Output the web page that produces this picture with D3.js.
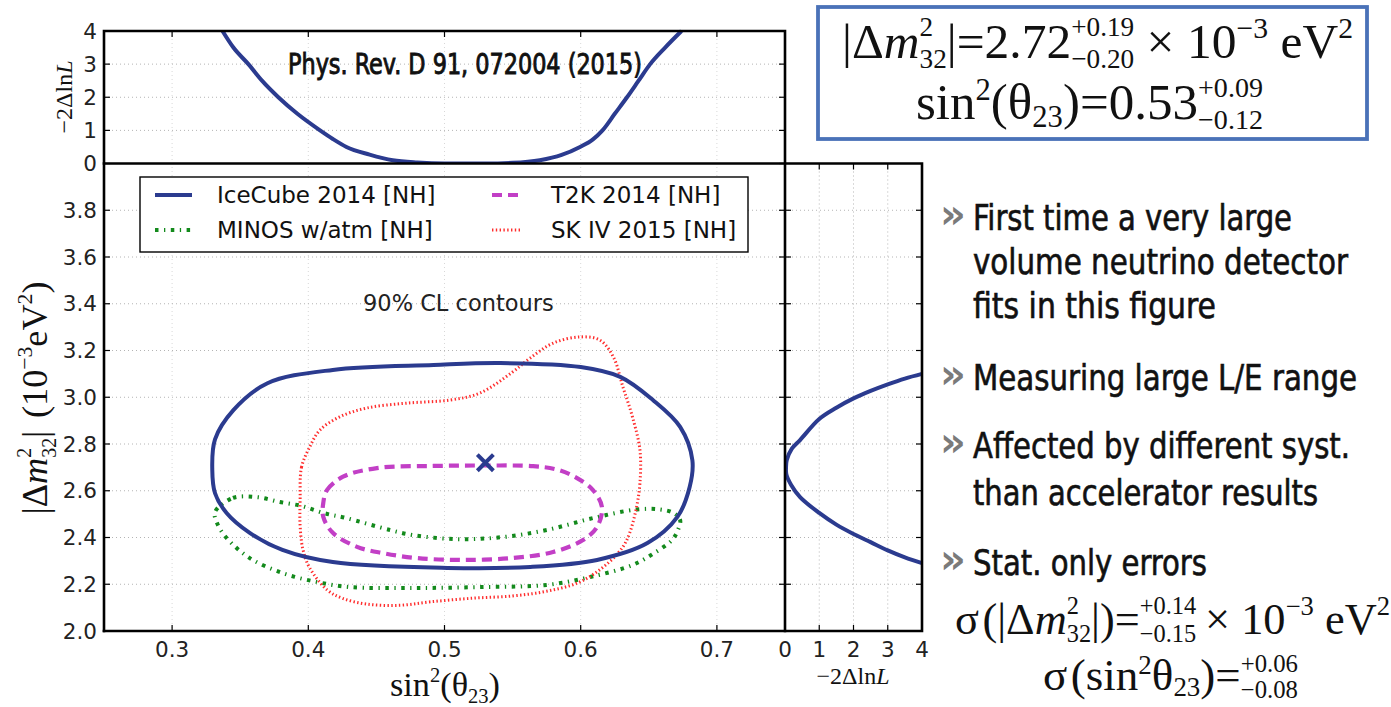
<!DOCTYPE html>
<html><head><meta charset="utf-8">
<script src="https://cdn.jsdelivr.net/npm/d3@7"></script>
<style>body{margin:0;background:#fff} text{white-space:pre}</style>
</head><body>
<svg id="c" width="1391" height="707"></svg>
<script>
// ---------------- DATA ----------------
const xTicks = [0.3, 0.4, 0.5, 0.6, 0.7];
const yTicks = [2.0, 2.2, 2.4, 2.6, 2.8, 3.0, 3.2, 3.4, 3.6, 3.8];
const llhTicks = [0, 1, 2, 3, 4];
const seriesNames = ["IceCube 2014 [NH]", "MINOS w/atm [NH]", "T2K 2014 [NH]", "SK IV 2015 [NH]"];

// 90% CL contours: [sin^2(theta23), |dm2_32| (1e-3 eV^2)]
const icecube = [[0.3295,2.69],[0.3315,2.82],[0.345,2.945],[0.370,3.06],[0.418,3.117],[0.492,3.138],[0.541,3.146],
  [0.600,3.129],[0.629,3.087],[0.653,2.988],[0.673,2.873],[0.682,2.73],[0.680,2.616],[0.671,2.488],[0.649,2.376],
  [0.612,2.304],[0.563,2.274],[0.502,2.27],[0.418,2.295],[0.381,2.347],[0.357,2.42],[0.340,2.505],[0.3315,2.59]];
const t2k = [[0.411,2.548],[0.4137,2.603],[0.4255,2.66],[0.4504,2.697],[0.4916,2.706],[0.53,2.708],[0.565,2.705],
  [0.583,2.69],[0.597,2.655],[0.609,2.603],[0.6156,2.53],[0.612,2.445],[0.6017,2.389],[0.5797,2.338],[0.550,2.312],
  [0.5136,2.304],[0.4798,2.312],[0.455,2.333],[0.4358,2.36],[0.418,2.42],[0.411,2.488]];
const minos = [[0.3315,2.509],[0.3447,2.569],[0.362,2.573],[0.379,2.552],[0.395,2.535],[0.411,2.505],[0.428,2.483],
  [0.46,2.432],[0.477,2.41],[0.51,2.393],[0.543,2.402],[0.575,2.432],[0.609,2.483],[0.641,2.52],[0.658,2.52],
  [0.668,2.505],[0.673,2.475],[0.6714,2.432],[0.667,2.389],[0.653,2.33],[0.638,2.282],[0.607,2.231],[0.575,2.197],
  [0.526,2.188],[0.477,2.184],[0.4306,2.188],[0.406,2.21],[0.381,2.248],[0.357,2.312],[0.340,2.398],[0.333,2.462]];
const skiv = [[0.394,2.56],[0.395,2.70],[0.401,2.787],[0.4086,2.86],[0.423,2.916],[0.443,2.954],[0.4725,2.975],
  [0.504,2.988],[0.526,3.018],[0.550,3.108],[0.563,3.168],[0.580,3.232],[0.5995,3.258],[0.614,3.245],[0.624,3.172],
  [0.631,3.044],[0.638,2.916],[0.6435,2.774],[0.6435,2.633],[0.641,2.53],[0.636,2.42],[0.631,2.36],[0.62,2.29],
  [0.5995,2.21],[0.575,2.17],[0.55,2.15],[0.52,2.14],[0.49,2.125],[0.467,2.11],[0.443,2.115],[0.425,2.14],
  [0.414,2.175],[0.401,2.27],[0.396,2.35],[0.394,2.45]];
const bestFit = [0.53, 2.72];

// 1D profiles
const profileTheta = [[0.337,4.0],[0.345,3.5],[0.356,3.0],[0.366,2.5],[0.378,2.0],[0.392,1.5],[0.4086,1.0],
  [0.418,0.74],[0.428,0.5],[0.445,0.27],[0.462,0.1],[0.48,0.03],[0.50,0.0],[0.53,0.0],[0.55,0.02],[0.570,0.1],
  [0.586,0.26],[0.5995,0.5],[0.609,0.73],[0.616,1.0],[0.625,1.5],[0.634,2.0],[0.6425,2.5],[0.651,3.0],
  [0.662,3.5],[0.674,4.0]];
// [ -2 Delta lnL , |dm2_32| ]
const profileDm = [[4.0,2.29],[3.5,2.315],[3.0,2.345],[2.5,2.38],[2.0,2.415],[1.5,2.455],[1.0,2.505],[0.44,2.573],
  [0.18,2.625],[0.04,2.67],[0.03,2.70],[0.05,2.73],[0.2,2.78],[0.44,2.817],[1.0,2.907],[1.5,2.955],[2.0,2.995],
  [2.5,3.027],[3.0,3.055],[3.5,3.08],[4.0,3.10]];

const citation = "Phys. Rev. D 91, 072004 (2015)";
const contourNote = "90% CL contours";
const notes = [["First time a very large", "volume neutrino detector", "fits in this figure"],
  ["Measuring large L/E range"],
  ["Affected by different syst.", "than accelerator results"],
  ["Stat. only errors"]];

// ---------------- LAYOUT ----------------
const svg = d3.select('#c');
const L = 104, R = 785, T0 = 31, T = 163.5, B = 631, RP = 922;
const x = d3.scaleLinear().domain([0.25, 0.75]).range([L, R]);
const y = d3.scaleLinear().domain([2.0, 4.0]).range([B, T]);
const yTop = d3.scaleLinear().domain([0, 4]).range([T, T0]);
const xRight = d3.scaleLinear().domain([0, 4]).range([R, RP]);

svg.append('rect').attr('width', 1391).attr('height', 707).attr('fill', '#fff');
const defs = svg.append('defs');
function clip(id, x0, y0, w, h) {
  defs.append('clipPath').attr('id', id).append('rect').attr('x', x0).attr('y', y0).attr('width', w).attr('height', h);
}
clip('cMain', L, T, R - L, B - T); clip('cTop', L, T0 - 2, R - L, T - T0 + 2); clip('cRight', R, T, RP - R + 2, B - T);

const SANS = "'DejaVu Sans', sans-serif";
const SERIF = "'Liberation Serif', 'DejaVu Serif', serif";
const NARROW = "'Liberation Sans Narrow', 'DejaVu Sans Condensed', sans-serif";

// grid
const grid = svg.append('g').attr('fill', 'none').attr('stroke-width', 1).attr('stroke-dasharray', '1,3');
const gridYVals = yTicks.filter(v => v > 2.0);
grid.selectAll('.gx').data(xTicks).join('line').attr('stroke', '#d8d8d8')
  .attr('x1', d => x(d)).attr('x2', d => x(d)).attr('y1', T0).attr('y2', B);
grid.selectAll('.gy').data(gridYVals).join('line').attr('stroke', '#b4b4b4')
  .attr('x1', L).attr('x2', RP).attr('y1', d => y(d)).attr('y2', d => y(d));
grid.selectAll('.gt').data([1, 2, 3]).join('line').attr('stroke', '#b4b4b4')
  .attr('x1', L).attr('x2', R).attr('y1', d => yTop(d)).attr('y2', d => yTop(d));
grid.selectAll('.gr').data([1, 2, 3]).join('line').attr('stroke', '#b4b4b4')
  .attr('x1', d => xRight(d)).attr('x2', d => xRight(d)).attr('y1', T).attr('y2', B);

// ticks (inward)
const tk = svg.append('g').attr('stroke', '#000').attr('stroke-width', 1.2);
const TL = 6;
xTicks.forEach(v => { tk.append('line').attr('x1', x(v)).attr('x2', x(v)).attr('y1', B).attr('y2', B - TL);
  tk.append('line').attr('x1', x(v)).attr('x2', x(v)).attr('y1', T0).attr('y2', T0 + TL); });
yTicks.forEach(v => { tk.append('line').attr('x1', L).attr('x2', L + TL).attr('y1', y(v)).attr('y2', y(v));
  tk.append('line').attr('x1', R - TL).attr('x2', R + TL).attr('y1', y(v)).attr('y2', y(v));
  tk.append('line').attr('x1', RP - TL).attr('x2', RP).attr('y1', y(v)).attr('y2', y(v)); });
llhTicks.forEach(v => { tk.append('line').attr('x1', L).attr('x2', L + TL).attr('y1', yTop(v)).attr('y2', yTop(v));
  tk.append('line').attr('x1', R - TL).attr('x2', R).attr('y1', yTop(v)).attr('y2', yTop(v));
  tk.append('line').attr('x1', xRight(v)).attr('x2', xRight(v)).attr('y1', B).attr('y2', B - TL);
  tk.append('line').attr('x1', xRight(v)).attr('x2', xRight(v)).attr('y1', T).attr('y2', T + TL); });

// tick labels
const tl = svg.append('g').attr('font-family', SANS).attr('font-size', 21.5).attr('fill', '#222');
yTicks.forEach(v => tl.append('text').attr('x', 97).attr('y', y(v) + 7.5).attr('text-anchor', 'end').text(d3.format('.1f')(v)));
llhTicks.forEach(v => tl.append('text').attr('x', 97).attr('y', yTop(v) + 7.5).attr('text-anchor', 'end').text(v));
xTicks.forEach(v => tl.append('text').attr('x', x(v)).attr('y', 657).attr('text-anchor', 'middle').text(d3.format('.1f')(v)));
llhTicks.forEach(v => tl.append('text').attr('x', xRight(v)).attr('y', 657).attr('text-anchor', 'middle').text(v));

// series styles
const styles = {
  "IceCube 2014 [NH]": {stroke: '#2b3b8f', w: 4, dash: null},
  "MINOS w/atm [NH]": {stroke: '#138a1c', w: 4, dash: '3.5,5.5,1.3,5.5'},
  "T2K 2014 [NH]": {stroke: '#c23fc6', w: 4.2, dash: '10,6'},
  "SK IV 2015 [NH]": {stroke: '#ff2d2d', w: 3, dash: '1.4,2.4'}
};
const contours = {"IceCube 2014 [NH]": icecube, "MINOS w/atm [NH]": minos, "T2K 2014 [NH]": t2k, "SK IV 2015 [NH]": skiv};
const lineC = d3.line().x(d => x(d[0])).y(d => y(d[1])).curve(d3.curveCatmullRomClosed.alpha(0.5));
const cg = svg.append('g').attr('clip-path', 'url(#cMain)').attr('fill', 'none');
["MINOS w/atm [NH]", "SK IV 2015 [NH]", "T2K 2014 [NH]", "IceCube 2014 [NH]"].forEach(n => {
  const s = styles[n];
  cg.append('path').attr('d', lineC(contours[n])).attr('stroke', s.stroke).attr('stroke-width', s.w)
    .attr('stroke-dasharray', s.dash);
});
cg.append('path').attr('d', d3.symbol().type(d3.symbolX).size(170)())
  .attr('transform', `translate(${x(bestFit[0])},${y(bestFit[1])})`)
  .attr('stroke', styles["IceCube 2014 [NH]"].stroke).attr('stroke-width', 4);

// profiles
svg.append('path').attr('clip-path', 'url(#cTop)').attr('fill', 'none').attr('stroke', '#2b3b8f').attr('stroke-width', 4)
  .attr('d', d3.line().x(d => x(d[0])).y(d => yTop(d[1])).curve(d3.curveMonotoneX)(profileTheta));
svg.append('path').attr('clip-path', 'url(#cRight)').attr('fill', 'none').attr('stroke', '#2b3b8f').attr('stroke-width', 4)
  .attr('d', d3.line().x(d => xRight(d[0])).y(d => y(d[1])).curve(d3.curveCatmullRom.alpha(0.5))(profileDm));

// frames
const fr = svg.append('g').attr('stroke', '#000').attr('stroke-width', 2.6).attr('fill', 'none').attr('stroke-linecap', 'square');
fr.append('path').attr('d', `M${L},${B}V${T0}H${R}V${B}`);
fr.append('path').attr('d', `M${L},${B}H${RP}V${T}H${L}`);

// legend
const lg = svg.append('g');
lg.append('rect').attr('x', 140).attr('y', 177).attr('width', 608).attr('height', 75)
  .attr('fill', '#fff').attr('stroke', '#000').attr('stroke-width', 1.4);
const legPos = [[155, 192, 217, 195], [155, 192, 217, 230], [492, 522, 551, 195], [492, 522, 551, 230]];
seriesNames.forEach((n, i) => {
  const s = styles[n], p = legPos[i];
  lg.append('line').attr('x1', p[0]).attr('x2', p[1]).attr('y1', p[3]).attr('y2', p[3])
    .attr('stroke', s.stroke).attr('stroke-width', s.w).attr('stroke-dasharray', s.dash);
  lg.append('text').attr('x', p[2]).attr('y', p[3] + 8).attr('font-family', SANS).attr('font-size', 23)
    .attr('fill', '#111').text(n);
});
svg.append('text').attr('x', 363).attr('y', 311).attr('font-family', SANS).attr('font-size', 22.5)
  .attr('fill', '#222').text(contourNote);

// citation
svg.append('text').attr('x', 288).attr('y', 74).attr('font-family', NARROW).attr('font-size', 29)
  .attr('fill', '#111').attr('stroke', '#111').attr('stroke-width', 0.9)
  .attr('textLength', 354).attr('lengthAdjust', 'spacingAndGlyphs').text(citation);

// math helper
function mathRun(parts, o) {
  const g = svg.append('g').attr('transform', `translate(${o.x},${o.y}) rotate(${o.rot || 0})`);
  const inner = g.append('g').attr('font-family', o.family || SERIF).attr('fill', o.fill || '#111');
  const fs = o.size;
  const up = o.up || 0.42, dn = o.dn || 0.2;
  let cx = 0;
  parts.forEach(p => {
    if (p.gap !== undefined) { cx += p.gap * fs; return; }
    if (p.stack) {
      const s = fs * (p.k || 0.55);
      const a = inner.append('text').attr('x', cx).attr('y', -fs * (p.up || o.sup || 0.44)).attr('font-size', s).text(p.stack[0]);
      const b = inner.append('text').attr('x', cx).attr('y', fs * (p.dn || o.sdn || 0.2)).attr('font-size', s).text(p.stack[1]);
      cx += Math.max(a.node().getComputedTextLength(), b.node().getComputedTextLength());
      return;
    }
    const s = fs * (p.k || 1);
    const dy = p.sup ? -up : p.sub ? dn : 0;
    const t = inner.append('text').attr('x', cx).attr('y', dy * fs).attr('font-size', s).text(p.t);
    if (p.it) t.attr('font-style', 'italic');
    cx += t.node().getComputedTextLength();
  });
  const k = o.width ? o.width / cx : 1;
  const off = o.anchor === 'middle' ? -cx / 2 : 0;
  inner.attr('transform', `scale(${k}) translate(${off},0)`);
}
const sup = t => ({t, k: 0.6, sup: true}), sub = t => ({t, k: 0.6, sub: true});

// axis labels
mathRun([{t: '|Δ'}, {t: 'm', it: true}, {stack: ['2', '32'], up: 0.45, dn: 0.25}, {t: '|'}, {gap: 0.35},
  {t: '(10'}, sup('−3'), {t: 'eV'}, sup('2'), {t: ')'}], {x: 47, y: 398, rot: -90, size: 24, width: 233, anchor: 'middle'});
mathRun([{t: '−2Δln'}, {t: 'L', it: true}], {x: 72, y: 97, rot: -90, size: 20, width: 73, anchor: 'middle'});
mathRun([{t: 'sin'}, sup('2'), {t: '(θ'}, sub('23'), {t: ')'}], {x: 445, y: 696, size: 25, width: 110, anchor: 'middle'});
mathRun([{t: '−2Δln'}, {t: 'L', it: true}], {x: 853, y: 684, size: 20, width: 73, anchor: 'middle'});

// result box
svg.append('rect').attr('x', 818).attr('y', 7).attr('width', 549).attr('height', 132)
  .attr('fill', '#fff').attr('stroke', '#4a72b8').attr('stroke-width', 3.8);
mathRun([{t: '|Δ'}, {t: 'm', it: true}, {stack: ['2', '32']}, {t: '|=2.72'},
  {stack: ['+0.19', '−0.20']}, {gap: 0.25}, {t: '×'}, {gap: 0.25}, {t: '10'}, sup('−3'), {gap: 0.25}, {t: 'eV'}, sup('2')],
  {x: 842, y: 58, size: 46, width: 511, up: 0.4, dn: 0.15, sup: 0.44, sdn: 0.2});
mathRun([{t: 'sin'}, sup('2'), {t: '(θ'}, sub('23'), {t: ')=0.53'}, {stack: ['+0.09', '−0.12']}],
  {x: 916, y: 119, size: 46, width: 347, up: 0.38, dn: 0.15, sup: 0.44, sdn: 0.2});

// notes
const noteBase = [[230, 274, 318], [390], [458, 505], [575]];
const noteW = [[319, 375, 243], [384], [377, 345], [234]];
const ng = svg.append('g').attr('font-family', NARROW).attr('font-size', 35);
notes.forEach((grp, i) => {
  ng.append('text').attr('x', 940).attr('y', noteBase[i][0] - 2).attr('fill', '#7a7a7a').attr('font-size', 40)
    .attr('font-family', SANS).attr('font-weight', 'bold').text('»');
  grp.forEach((line, j) => {
    ng.append('text').attr('x', 973).attr('y', noteBase[i][j]).attr('fill', '#111')
      .attr('stroke', '#111').attr('stroke-width', 0.6)
      .attr('textLength', noteW[i][j]).attr('lengthAdjust', 'spacingAndGlyphs').text(line);
  });
});
mathRun([{t: 'σ'}, {gap: 0.08}, {t: '(|Δ'}, {t: 'm', it: true}, {stack: ['2', '32']}, {t: '|)='},
  {stack: ['+0.14', '−0.15']}, {gap: 0.2}, {t: '×'}, {gap: 0.25}, {t: '10'}, sup('−3'), {gap: 0.25}, {t: 'eV'}, sup('2')],
  {x: 955, y: 634, size: 42, width: 435, up: 0.42, dn: 0.16, sup: 0.44, sdn: 0.17});
mathRun([{t: 'σ'}, {gap: 0.08}, {t: '(sin'}, sup('2'), {t: 'θ'}, sub('23'), {t: ')='}, {stack: ['+0.06', '−0.08']}],
  {x: 1043, y: 690, size: 42, width: 255, up: 0.36, dn: 0.14, sup: 0.4, sdn: 0.17});
</script>
</body></html>
